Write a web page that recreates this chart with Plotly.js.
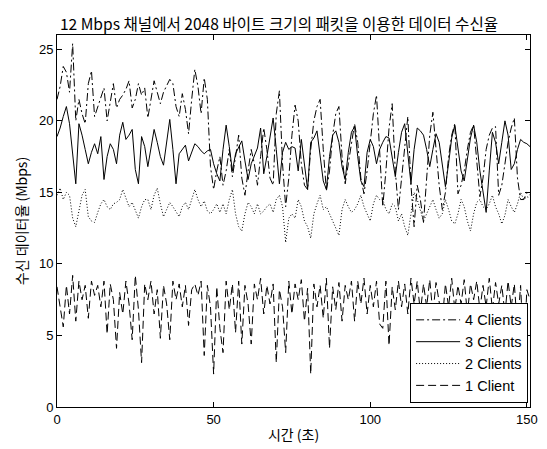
<!DOCTYPE html>
<html>
<head>
<meta charset="utf-8">
<script src="https://cdn.plot.ly/plotly-3.0.1.min.js"></script>
<style>body{margin:0;padding:0;background:#fff;}#chart{width:547px;height:449px;}</style>
</head>
<body>
<div id="chart"></div>
<script>
const seriesNames = ["4 Clients", "3 Clients", "2 Clients", "1 Client"];
const xTickVals = [0, 50, 100, 150];
const yTickVals = [0, 5, 10, 15, 20, 25];

const clients4 = [21.5,22.4,23.8,23.4,22.0,25.4,20.0,21.5,20.5,19.8,22.6,23.5,20.3,21.0,21.7,22.3,20.0,21.2,22.6,20.9,
21.5,21.8,22.2,22.8,20.9,21.5,22.6,21.8,22.3,20.2,21.5,22.8,22.0,21.2,22.0,22.5,22.9,22.6,21.0,20.3,
21.9,20.8,19.1,21.5,23.6,22.4,20.5,23.0,21.5,16.8,15.2,16.5,17.5,15.5,16.5,18.0,16.1,17.5,19.0,16.0,
14.8,16.5,18.0,17.0,15.5,17.5,19.5,18.0,16.0,15.5,20.5,22.1,17.0,14.0,16.0,19.0,21.1,20.0,17.0,15.5,
15.2,18.0,20.0,21.0,21.5,18.0,15.1,16.5,19.0,20.5,21.0,17.5,15.6,17.0,18.5,19.8,18.5,16.0,14.9,16.5,
18.5,20.5,21.8,17.5,14.0,16.5,19.5,21.2,16.5,13.8,16.0,18.5,20.3,15.5,12.6,15.5,14.5,12.9,16.0,19.0,
20.6,18.0,15.5,13.8,15.0,17.5,19.0,19.8,14.9,15.5,16.5,18.0,19.2,19.7,17.0,14.7,16.0,18.0,19.0,19.5,
19.6,14.8,15.5,17.0,18.5,19.5,20.2,16.0,14.5,14.5,15.0,14.8];

const clients3 = [18.9,19.5,20.3,21.0,19.8,17.5,15.6,19.8,19.0,18.0,17.0,17.8,18.4,17.7,18.9,15.9,17.5,18.4,18.0,17.0,
19.0,19.9,18.7,19.0,19.4,16.6,15.6,18.9,18.2,16.8,18.0,19.4,18.5,17.5,16.9,18.5,20.1,18.0,15.6,17.7,
18.0,18.3,17.2,17.8,18.4,18.2,17.9,17.7,17.9,18.0,17.0,16.3,15.8,18.0,19.7,18.2,16.5,17.7,18.1,18.6,
17.2,15.9,17.0,17.5,18.1,19.5,16.3,17.5,19.0,20.2,18.0,15.6,17.8,18.5,18.0,18.2,18.1,16.5,18.7,17.0,
15.2,18.5,18.8,19.3,17.5,15.8,15.2,17.5,19.0,19.3,18.5,16.8,15.9,17.8,19.2,19.6,17.5,15.8,15.4,17.8,
18.7,18.2,17.0,18.0,18.5,18.9,18.8,17.5,16.1,17.8,19.2,19.8,17.5,15.6,18.0,19.5,19.3,19.0,18.0,16.8,
18.0,19.1,18.5,16.8,15.4,17.0,18.8,19.7,18.0,16.5,15.8,17.2,18.8,19.7,18.5,16.5,15.0,13.6,16.5,19.2,
18.5,17.0,18.5,20.0,19.0,16.6,17.0,18.0,18.7,18.5,18.4,18.2];

const clients2 = [14.8,15.3,14.5,15.0,14.8,13.2,12.6,13.8,14.8,15.2,13.3,13.0,12.9,13.6,14.2,14.5,14.0,13.8,14.2,14.3,
14.5,15.2,14.6,14.0,14.3,13.8,13.2,14.0,14.5,14.5,13.8,14.8,15.3,14.2,13.3,13.8,14.3,14.0,13.6,13.3,
14.0,14.3,13.8,14.6,15.2,14.5,14.0,14.4,13.7,13.5,13.8,14.2,13.6,14.2,13.5,14.5,15.2,13.5,12.6,12.3,
13.5,14.3,14.0,13.5,14.2,13.5,13.7,14.0,14.2,13.6,14.5,14.8,14.0,11.5,13.2,13.5,13.2,14.5,14.0,13.0,
12.6,11.8,13.5,14.2,14.8,13.8,14.0,13.5,13.0,12.6,12.0,13.8,14.5,14.0,13.6,13.8,14.2,14.8,14.0,13.5,
13.0,14.2,14.8,14.5,14.5,13.8,13.5,14.2,14.0,13.0,13.5,12.6,12.0,13.5,15.0,14.5,13.8,13.0,13.5,14.0,
14.5,13.8,13.2,13.5,14.5,13.8,13.0,12.8,13.5,14.5,14.0,13.0,12.3,13.5,14.3,14.5,14.0,13.8,14.2,14.8,
14.0,13.5,12.8,13.4,14.5,14.0,13.6,14.2,15.0,14.5,14.7,14.6];

const clients1 = [8.4,7.0,5.6,8.5,6.5,9.2,6.0,8.8,7.5,8.5,6.2,8.8,7.8,8.5,7.0,8.8,5.1,8.6,7.5,4.1,
8.0,6.5,8.8,7.2,4.7,9.2,6.8,3.1,8.6,7.5,8.8,6.5,8.2,4.8,8.5,7.2,4.7,8.8,7.5,8.6,
7.0,8.5,5.7,8.2,8.6,7.8,8.8,3.6,8.5,7.0,2.3,8.4,5.5,3.8,8.8,6.8,8.6,5.2,8.8,4.4,
8.5,7.2,4.4,8.6,7.5,9.0,6.5,8.5,7.2,8.6,3.1,8.2,7.0,3.8,8.8,6.5,8.6,7.5,8.9,6.0,
8.3,2.3,8.6,7.0,8.5,6.2,9.0,4.1,8.4,6.8,8.7,6.0,8.5,7.5,8.8,6.0,8.8,7.2,9.0,6.5,
8.5,7.0,8.8,5.8,5.5,8.8,4.3,8.4,6.8,8.8,7.0,8.6,6.5,9.0,7.2,8.8,6.6,8.6,7.0,8.9,
6.5,8.7,7.3,6.0,8.6,7.0,9.0,6.8,8.5,7.2,8.9,6.5,8.6,7.5,8.8,6.8,8.5,7.0,9.0,6.8,
8.7,7.2,8.5,6.5,8.8,7.0,8.6,5.5,8.5,3.8,8.2,7.5];

const allSeries = [clients4, clients3, clients2, clients1];
const dashes = ["8px,3px,2px,3px", "solid", "1px,2px", "8px,4px"];

const traces = allSeries.map((ys, i) => ({
  x: ys.map((_, k) => k),
  y: ys,
  name: seriesNames[i],
  type: "scatter",
  mode: "lines",
  line: {color: "#000", width: 1, dash: dashes[i]}
}));

const layout = {
  width: 547, height: 449,
  margin: {l: 57, r: 17, t: 35, b: 42},
  paper_bgcolor: "#fff", plot_bgcolor: "#fff",
  font: {family: "Liberation Sans, Arial, sans-serif", size: 13, color: "#000"},
  showlegend: true,
  title: {
    text: "12 Mbps 채널에서 2048 바이트 크기의 패킷을 이용한 데이터 수신율",
    font: {family: "Noto Sans CJK KR, sans-serif", size: 15.6, color: "#000"},
    x: 279 / 547, xref: "container", xanchor: "center",
    y: 1, yref: "paper", yanchor: "bottom", pad: {b: 5}
  },
  xaxis: {
    range: [0, 151], tickvals: xTickVals, ticktext: xTickVals.map(String),
    ticks: "inside", ticklen: 5, tickcolor: "#000",
    showline: true, linecolor: "#000", linewidth: 1, mirror: "ticks",
    showgrid: false, zeroline: false,
    tickfont: {family: "Liberation Sans, Arial, sans-serif", size: 13},
    title: {text: "시간 (초)", font: {family: "Noto Sans CJK KR, sans-serif", size: 14}, standoff: 4}
  },
  yaxis: {
    range: [0, 26], tickvals: yTickVals, ticktext: yTickVals.map(String),
    ticks: "inside", ticklen: 5, tickcolor: "#000",
    showline: true, linecolor: "#000", linewidth: 1, mirror: "ticks",
    showgrid: false, zeroline: false,
    tickfont: {family: "Liberation Sans, Arial, sans-serif", size: 13},
    title: {text: "수신 데이터율 (Mbps)", font: {family: "Noto Sans CJK KR, sans-serif", size: 14}, standoff: 8}
  },
  legend: {
    x: 0.996, xanchor: "right", y: 0.011, yanchor: "bottom",
    bgcolor: "#fff", bordercolor: "#000", borderwidth: 1,
    itemwidth: 44,
    font: {family: "Liberation Sans, Arial, sans-serif", size: 14.5, color: "#000"}
  }
};

Plotly.newPlot("chart", traces, layout, {displayModeBar: false, staticPlot: true});
</script>
</body>
</html>
